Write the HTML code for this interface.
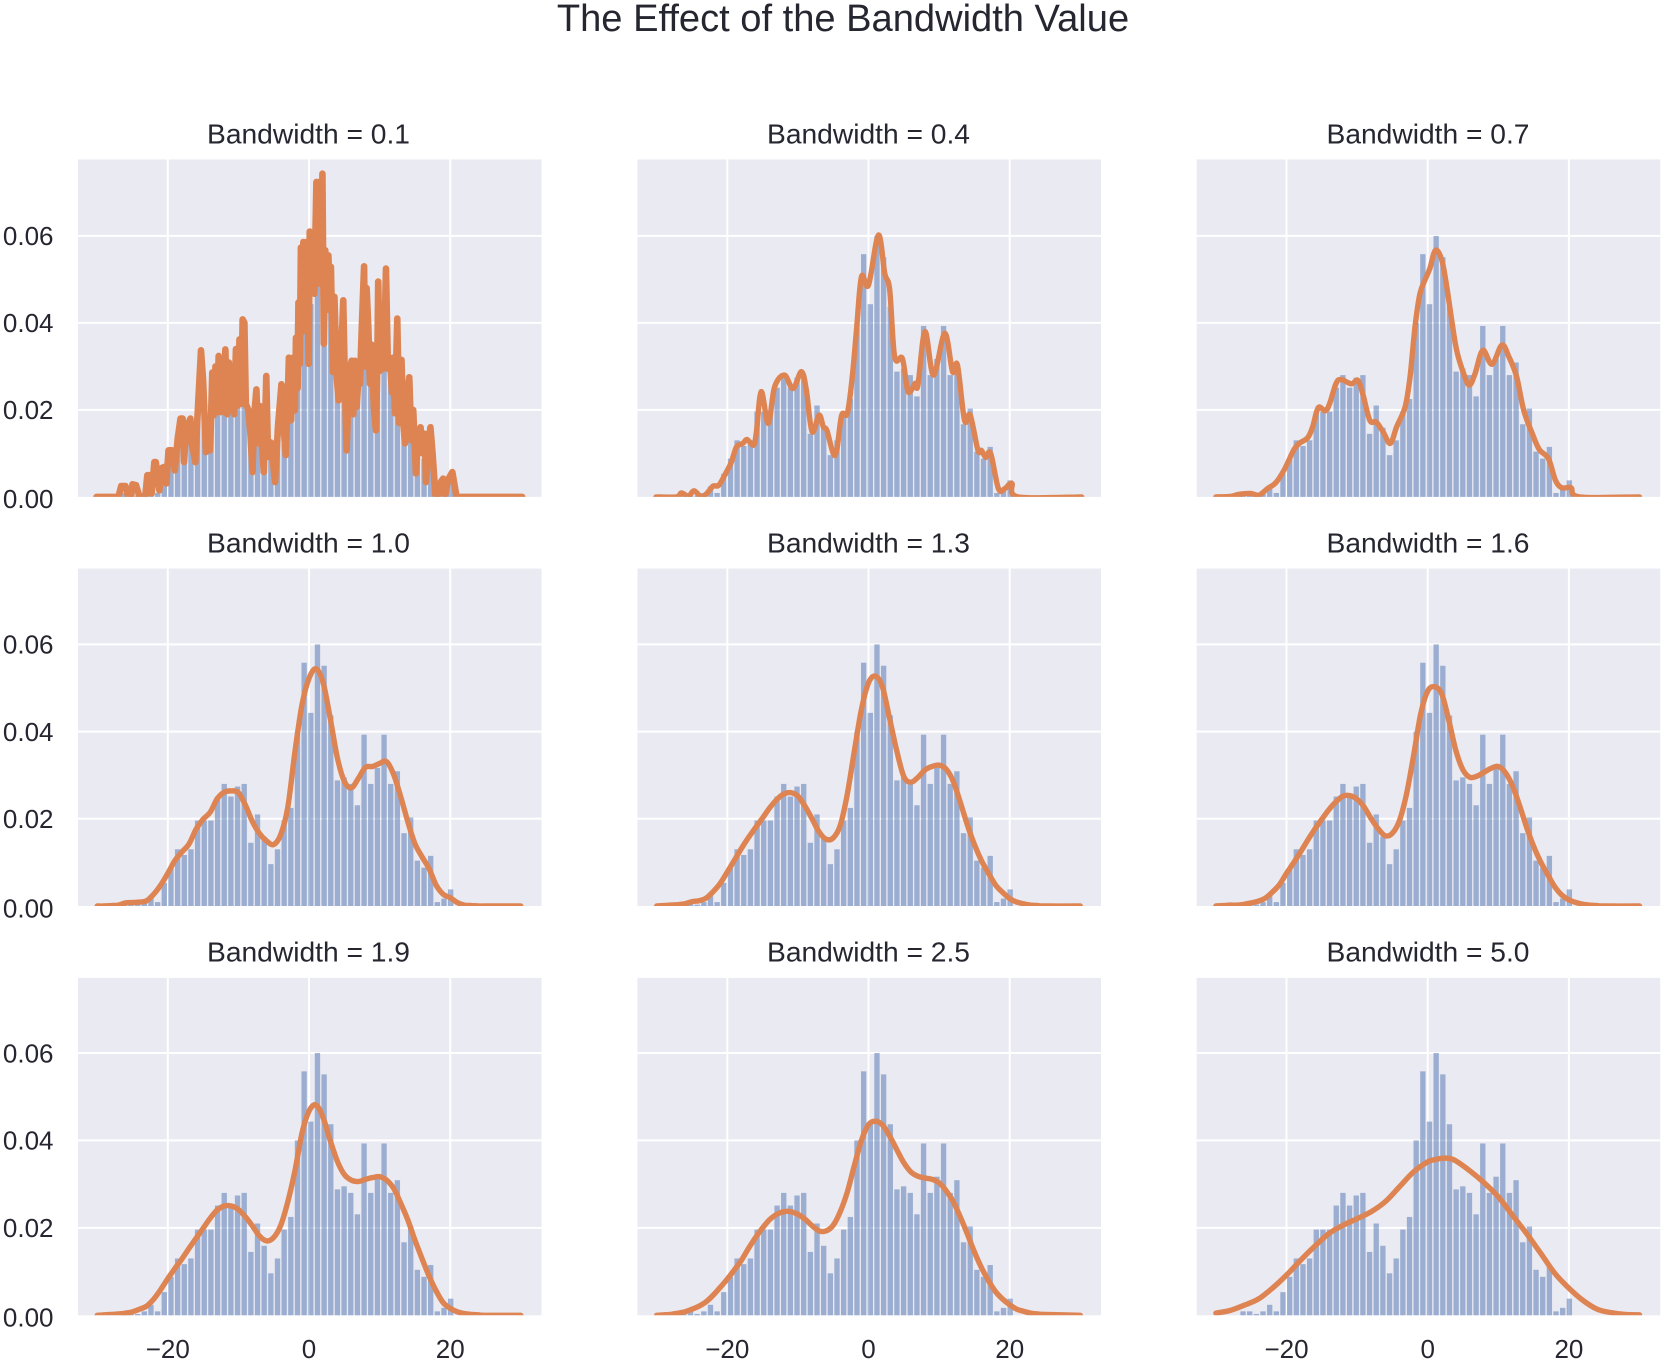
<!DOCTYPE html>
<html lang="en">
<head>
<meta charset="utf-8">
<title>The Effect of the Bandwidth Value</title>
<style>
html,body{margin:0;padding:0;background:#fff;}
svg{display:block;}
text{font-family:"Liberation Sans",Arial,sans-serif;fill:#262630;}
</style>
</head>
<body>
<svg id="figure" xmlns="http://www.w3.org/2000/svg" width="1665" height="1363" viewBox="0 0 1665 1363">
  <text x="843" y="31" text-anchor="middle" font-size="38.1">The Effect of the Bandwidth Value</text>
  <g id="panel-0"><text x="308.5" y="143.5" text-anchor="middle" font-size="28.2">Bandwidth = 0.1</text></g>
  <g id="panel-1"><text x="868.5" y="143.5" text-anchor="middle" font-size="28.2">Bandwidth = 0.4</text></g>
  <g id="panel-2"><text x="1428" y="143.5" text-anchor="middle" font-size="28.2">Bandwidth = 0.7</text></g>
  <g id="panel-3"><text x="308.5" y="552.7" text-anchor="middle" font-size="28.2">Bandwidth = 1.0</text></g>
  <g id="panel-4"><text x="868.5" y="552.7" text-anchor="middle" font-size="28.2">Bandwidth = 1.3</text></g>
  <g id="panel-5"><text x="1428" y="552.7" text-anchor="middle" font-size="28.2">Bandwidth = 1.6</text></g>
  <g id="panel-6"><text x="308.5" y="961.4" text-anchor="middle" font-size="28.2">Bandwidth = 1.9</text></g>
  <g id="panel-7"><text x="868.5" y="961.4" text-anchor="middle" font-size="28.2">Bandwidth = 2.5</text></g>
  <g id="panel-8"><text x="1428" y="961.4" text-anchor="middle" font-size="28.2">Bandwidth = 5.0</text></g>
</svg>
<script>
// Histogram (50 bins), density per bin
const histStart = -26.63;
const histBinWidth = 0.9433;
const histDensity = [0.0009,0.0009,0.0003,0.0009,0.0024,0.0009,0.0053,0.0088,0.0130,0.0117,0.0130,0.0196,0.0196,0.0196,0.0251,0.0280,0.0251,0.0274,0.0280,0.0145,0.0210,0.0159,0.0096,0.0130,0.0196,0.0225,0.0400,0.0558,0.0443,0.0600,0.0551,0.0437,0.0288,0.0295,0.0280,0.0231,0.0393,0.0280,0.0317,0.0393,0.0280,0.0309,0.0167,0.0203,0.0104,0.0088,0.0115,0.0009,0.0017,0.0038];

// Axis ticks
const xTickValues = [-20,0,20];
const xTickLabels = ["\u221220","0","20"];
const yTickValues = [0,0.02,0.04,0.06];
const yTickLabels = ["0.00","0.02","0.04","0.06"];

// KDE sample positions
const xGrid = [-30,-29,-28,-27,-26,-25,-24,-23,-22,-21,-20,-19,-18,-17,-16,-15,-14,-13,-12,-11,-10,-9,-8,-7,-6,-5,-4,-3,-2,-1,0,1,2,3,4,5,6,7,8,9,10,11,12,13,14,15,16,17,18,19,20,21,22,23,24,25,30];

// KDE bandwidth 0.1
const kdeX01 = [-30.1,-27.0,-26.6,-26.0,-25.6,-25.2,-25.0,-24.5,-24.0,-23.2,-22.9,-22.6,-22.3,-21.9,-21.7,-21.2,-20.8,-20.5,-20.2,-19.9,-19.4,-19.0,-18.6,-18.2,-17.9,-17.7,-17.4,-16.8,-16.6,-16.1,-15.8,-15.3,-15.0,-14.6,-14.3,-14.0,-13.7,-13.5,-13.25,-13.0,-12.8,-12.55,-12.35,-12.1,-11.85,-11.6,-11.35,-11.1,-10.85,-10.6,-10.35,-10.1,-9.85,-9.6,-9.4,-9.15,-8.95,-8.6,-8.3,-8.0,-7.75,-7.45,-7.2,-6.95,-6.7,-6.4,-6.05,-5.8,-5.4,-4.8,-4.4,-3.9,-3.6,-3.3,-3.0,-2.85,-2.55,-2.25,-2.0,-1.85,-1.6,-1.5,-1.3,-1.15,-1.0,-0.8,-0.55,-0.3,-0.05,0.1,0.4,0.55,0.75,1.05,1.25,1.45,1.65,1.9,2.1,2.3,2.55,2.75,2.95,3.1,3.4,3.6,3.95,4.2,4.5,4.85,5.1,5.33,5.7,6.04,6.27,6.5,6.75,7.0,7.2,7.5,7.8,7.97,8.16,8.4,8.63,8.87,9.2,9.48,9.67,9.8,10.05,10.3,10.6,10.9,11.18,11.46,11.75,11.93,12.17,12.5,12.78,13.1,13.35,13.6,13.8,14.2,14.5,14.76,15.14,15.5,15.8,16.1,16.4,16.56,16.9,17.2,17.5,17.9,18.3,18.5,19.0,19.3,19.7,20.3,20.9,30.2];
const kdeY01 = [0,0,0.0025,0.0025,0,0,0.0029,0.0027,0,0,0.0050,0.0050,0.0008,0.0080,0.0080,0.0015,0.0067,0.0069,0.0031,0.0107,0.0107,0.0061,0.0134,0.0180,0.0180,0.0080,0.0157,0.0180,0.0123,0.0080,0.0184,0.0337,0.0268,0.0103,0.0170,0.0107,0.0286,0.0188,0.0300,0.0195,0.0324,0.0195,0.0301,0.0195,0.0339,0.0190,0.0309,0.0200,0.0270,0.0190,0.0340,0.0210,0.0362,0.0214,0.0408,0.0400,0.0214,0.0200,0.0146,0.0057,0.0190,0.0247,0.0123,0.0209,0.0130,0.0057,0.0278,0.0092,0.0125,0.0034,0.0161,0.0259,0.0161,0.0096,0.0232,0.0320,0.0176,0.0320,0.0199,0.0366,0.0250,0.0447,0.0306,0.0573,0.0379,0.0586,0.0440,0.0586,0.0306,0.0610,0.0480,0.0600,0.0467,0.0724,0.0490,0.0724,0.0500,0.0743,0.0352,0.0567,0.0430,0.0555,0.0440,0.0529,0.0287,0.0460,0.0270,0.0222,0.0300,0.0452,0.0250,0.0107,0.0290,0.0313,0.0190,0.0313,0.0207,0.0275,0.0260,0.0400,0.0530,0.0300,0.0480,0.0390,0.0260,0.0350,0.0200,0.0153,0.0300,0.0495,0.0290,0.0320,0.0295,0.0525,0.0295,0.0320,0.0240,0.0320,0.0192,0.0410,0.0170,0.0315,0.0170,0.0123,0.0220,0.0275,0.0130,0.0200,0.0054,0.0150,0.0160,0.0100,0.0145,0.0034,0.0120,0.0160,0.0100,0.0005,0,0.0030,0.0042,0.0005,0.0040,0.0057,0,0];

// KDE bandwidth 0.4
const kdeX04 = [-30.1,-27.2,-26.5,-25.5,-24.7,-23.7,-22.9,-22.0,-21.2,-20.1,-19.4,-18.7,-17.8,-17.2,-16.3,-15.9,-15.2,-14.2,-13.3,-11.9,-10.7,-9.5,-8.8,-8.0,-7.0,-6.4,-5.9,-5.0,-4.5,-3.8,-3.0,-2.3,-1.7,-1.0,0,1.4,2.3,3.0,3.7,4.8,5.6,6.6,7.0,8.0,9.2,10.8,11.9,12.6,13.6,14.4,15.5,16.0,16.6,17.3,18.4,19.3,20.3,21.2,30.2];
const kdeY04 = [0,0,0.0009,0.0002,0.0014,0,0.0008,0.0025,0.0027,0.0058,0.0081,0.0115,0.0123,0.0132,0.0119,0.0146,0.0242,0.0169,0.0253,0.0280,0.0249,0.0288,0.0245,0.0150,0.0188,0.0161,0.0153,0.0100,0.0107,0.0188,0.0192,0.0276,0.0384,0.0506,0.0487,0.0602,0.0514,0.0476,0.0322,0.0318,0.0242,0.0261,0.0257,0.0380,0.0280,0.0376,0.0288,0.0303,0.0176,0.0188,0.0107,0.0107,0.0091,0.0100,0.0019,0.0019,0.0031,0,0];

// KDE bandwidth 0.7
const kdeX07 = [-30.0,-28.0,-26.7,-25.1,-23.9,-22.7,-21.5,-20.3,-19.0,-18.2,-17.0,-16.3,-15.5,-14.5,-13.9,-13.0,-12.3,-10.8,-9.9,-9.2,-8.2,-7.3,-6.3,-5.3,-4.4,-3.2,-2.5,-1.8,-1.1,-0.3,0.3,1.1,2.0,2.7,3.4,4.1,5.1,5.9,6.7,7.8,9.1,10.5,11.5,12.6,13.6,14.8,15.8,17.1,18.1,19.0,20.3,21.5,30.0];
const kdeY07 = [0,0.0001,0.0006,0.0008,0.0004,0.0019,0.0033,0.0063,0.0107,0.0123,0.0136,0.0161,0.0205,0.0198,0.0214,0.0260,0.0270,0.0260,0.0268,0.0237,0.0176,0.0172,0.0149,0.0123,0.0161,0.0207,0.0276,0.0391,0.0467,0.0502,0.0525,0.0567,0.0544,0.0483,0.0406,0.0337,0.0283,0.0257,0.0283,0.0337,0.0305,0.0349,0.0322,0.0276,0.0199,0.0146,0.0109,0.0088,0.0038,0.0021,0.0021,0,0];

// KDE bandwidth 1.0, 1.3, 1.6, 1.9, 2.5 (sampled on xGrid)
const kdeY10 = [0,0,0.0001,0.0002,0.0007,0.0008,0.0009,0.0012,0.0027,0.0048,0.0075,0.0104,0.0124,0.0142,0.0176,0.0199,0.0215,0.0246,0.0261,0.0264,0.0260,0.0231,0.0193,0.0166,0.0149,0.0141,0.0164,0.0227,0.0353,0.0461,0.0522,0.0544,0.0512,0.0431,0.0341,0.0286,0.0271,0.0293,0.0318,0.0320,0.0327,0.0331,0.0301,0.0250,0.0193,0.0143,0.0113,0.0086,0.0048,0.0027,0.0019,0.0008,0.0002,0.0001,0,0,0];
const kdeY13 = [0,0.0001,0.0002,0.0003,0.0005,0.0010,0.0012,0.0018,0.0033,0.0052,0.0078,0.0105,0.0132,0.0157,0.0180,0.0202,0.0225,0.0244,0.0257,0.0260,0.0252,0.0229,0.0200,0.0170,0.0153,0.0156,0.0185,0.0257,0.0356,0.0451,0.0512,0.0527,0.0501,0.0429,0.0356,0.0297,0.0284,0.0295,0.0312,0.0320,0.0323,0.0314,0.0286,0.0238,0.0186,0.0141,0.0104,0.0075,0.0048,0.0031,0.0017,0.0009,0.0005,0.0002,0.0001,0,0];
const kdeY16 = [0,0.0001,0.0002,0.0002,0.0004,0.0007,0.0011,0.0018,0.0032,0.0049,0.0075,0.0099,0.0124,0.0151,0.0176,0.0199,0.0221,0.0239,0.0252,0.0253,0.0245,0.0227,0.0200,0.0177,0.0161,0.0167,0.0196,0.0257,0.0345,0.0440,0.0493,0.0503,0.0486,0.0425,0.0356,0.0312,0.0295,0.0298,0.0307,0.0316,0.0320,0.0306,0.0276,0.0231,0.0181,0.0137,0.0101,0.0072,0.0044,0.0025,0.0014,0.0008,0.0004,0.0002,0.0001,0,0];
const kdeY19 = [0,0.0001,0.0002,0.0003,0.0005,0.0008,0.0014,0.0021,0.0037,0.0059,0.0084,0.0107,0.0129,0.0153,0.0176,0.0199,0.0222,0.0241,0.0250,0.0250,0.0242,0.0225,0.0204,0.0181,0.0170,0.0178,0.0206,0.0260,0.0330,0.0416,0.0467,0.0481,0.0452,0.0400,0.0353,0.0322,0.0309,0.0306,0.0311,0.0315,0.0317,0.0309,0.0290,0.0256,0.0218,0.0172,0.0130,0.0090,0.0056,0.0029,0.0016,0.0008,0.0004,0.0002,0.0001,0,0];
const kdeY25 = [0,0.0001,0.0002,0.0005,0.0008,0.0014,0.0021,0.0031,0.0046,0.0064,0.0083,0.0104,0.0126,0.0153,0.0178,0.0200,0.0219,0.0231,0.0237,0.0237,0.0231,0.0220,0.0205,0.0193,0.0193,0.0206,0.0237,0.0282,0.0343,0.0400,0.0436,0.0444,0.0435,0.0410,0.0379,0.0349,0.0328,0.0318,0.0314,0.0311,0.0303,0.0285,0.0260,0.0225,0.0186,0.0145,0.0109,0.0079,0.0054,0.0037,0.0024,0.0014,0.0009,0.0005,0.0003,0.0002,0];

// KDE bandwidth 5.0
const kdeX50 = [-30,-28,-26,-24,-22,-20,-18,-16,-14,-12,-10,-8,-6,-4,-2,0,1,2,3,4,6,8,10,12,14,16,18,20,22,24,26,28,30];
const kdeY50 = [0.0005,0.0011,0.0023,0.0037,0.0062,0.0092,0.0126,0.0158,0.0187,0.0206,0.0221,0.0237,0.0260,0.0294,0.0328,0.0351,0.0356,0.0359,0.0359,0.0353,0.0330,0.0303,0.0271,0.0229,0.0187,0.0142,0.0096,0.0062,0.0034,0.0014,0.0006,0.0002,0.0001];

const svgNS = "http://www.w3.org/2000/svg";
const panelW = 463.5, panelH = 337.4;
const colLeft = [78, 637.5, 1196.7];
const rowBottom = [496.9, 906.0, 1315.3];
const rowYScale = [4350, 4360, 4372];
const unitsPerPanel = 65.65;
const xLimLeft = -32.72;

const series = [
  {xs: kdeX01, ys: kdeY01, smooth: false, width: 6.6},
  {xs: kdeX04, ys: kdeY04, smooth: true, width: 5.4},
  {xs: kdeX07, ys: kdeY07, smooth: true, width: 5.4},
  {xs: xGrid,  ys: kdeY10, smooth: true, width: 5.4},
  {xs: xGrid,  ys: kdeY13, smooth: true, width: 5.4},
  {xs: xGrid,  ys: kdeY16, smooth: true, width: 5.4},
  {xs: xGrid,  ys: kdeY19, smooth: true, width: 5.4},
  {xs: xGrid,  ys: kdeY25, smooth: true, width: 5.4},
  {xs: kdeX50, ys: kdeY50, smooth: true, width: 5.4}
];

function el(tag, parent){
  const n = document.createElementNS(svgNS, tag);
  parent.appendChild(n);
  return n;
}
function setA(n, a){ for (const k in a) n.setAttribute(k, a[k]); return n; }

function linePath(pts, smooth){
  let d = "M" + pts[0][0].toFixed(2) + " " + pts[0][1].toFixed(2);
  for (let i = 1; i < pts.length; i++){
    if (!smooth){ d += "L" + pts[i][0].toFixed(2) + " " + pts[i][1].toFixed(2); continue; }
    const p0 = pts[Math.max(i-2,0)], p1 = pts[i-1], p2 = pts[i], p3 = pts[Math.min(i+1,pts.length-1)];
    const c1x = p1[0] + (p2[0]-p0[0])/6, c1y = p1[1] + (p2[1]-p0[1])/6;
    const c2x = p2[0] - (p3[0]-p1[0])/6, c2y = p2[1] - (p3[1]-p1[1])/6;
    d += "C" + c1x.toFixed(2) + " " + c1y.toFixed(2) + " " + c2x.toFixed(2) + " " + c2y.toFixed(2) + " " + p2[0].toFixed(2) + " " + p2[1].toFixed(2);
  }
  return d;
}

const defs = el("defs", document.getElementById("figure"));

series.forEach(function(s, idx){
  const col = idx % 3, row = Math.floor(idx / 3);
  const left = colLeft[col], bottom = rowBottom[row], top = bottom - panelH;
  const yPxPerUnit = rowYScale[row];
  const xScale = function(v){ return left + (v - xLimLeft) * panelW / unitsPerPanel; };
  const yScale = function(v){ return bottom - v * yPxPerUnit; };
  const g = document.getElementById("panel-" + idx);

  const clip = el("clipPath", defs);
  clip.setAttribute("id", "clip-" + idx);
  setA(el("rect", clip), {x: left, y: top, width: panelW, height: panelH});

  const bg = el("rect", g);
  
  
  setA(bg, {x: left, y: top, width: panelW, height: panelH, fill: "#eaeaf2"});

  yTickValues.forEach(function(v, i){
    if (i > 0){
      const gl = el("line", g);
      
      
      setA(gl, {x1: left, x2: left + panelW, y1: yScale(v), y2: yScale(v), stroke: "#fff", "stroke-width": 2});
    }
    if (col === 0){
      const t = el("text", g);
      
      
      setA(t, {x: 53.5, y: yScale(v) + (i === 0 ? 11.3 : 9.3), "text-anchor": "end", "font-size": 26});
      t.textContent = yTickLabels[i];
    }
  });

  xTickValues.forEach(function(v, i){
    const gl = el("line", g);
    
    
    setA(gl, {x1: xScale(v), x2: xScale(v), y1: top, y2: bottom, stroke: "#fff", "stroke-width": 2});
    if (row === 2){
      const t = el("text", g);
      
      
      setA(t, {x: xScale(v), y: 1358, "text-anchor": "middle", "font-size": 26});
      t.textContent = xTickLabels[i];
    }
  });

  histDensity.forEach(function(v, i){
    const b = el("rect", g);
    
    
    const x0 = xScale(histStart + i * histBinWidth + histBinWidth * 0.1);
    const x1 = xScale(histStart + (i + 1) * histBinWidth - histBinWidth * 0.1);
    setA(b, {x: x0.toFixed(2), y: yScale(v).toFixed(2), width: (x1 - x0).toFixed(2), height: (v * yPxPerUnit).toFixed(2), fill: "#4c72b0", "fill-opacity": 0.5});
  });

  const pts = s.xs.map(function(x, i){ return [xScale(x), yScale(s.ys[i])]; });
  const line = el("path", g);
  
  
  setA(line, {d: linePath(pts, s.smooth), fill: "none", stroke: "#dd8452", "stroke-width": s.width, "stroke-linejoin": "round", "stroke-linecap": "round", "clip-path": "url(#clip-" + idx + ")"});
});
</script>
</body>
</html>
